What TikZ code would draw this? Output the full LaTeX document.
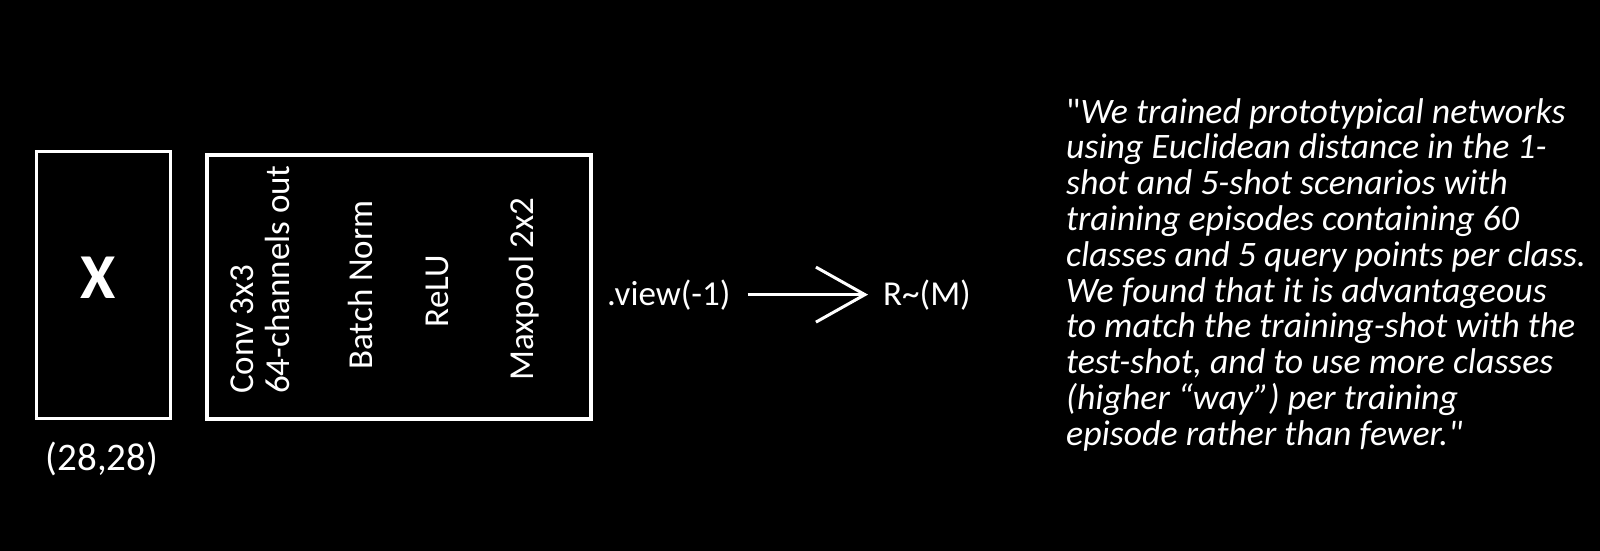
\documentclass[tikz,border=0pt]{standalone}
\usepackage{fontspec}
\setmainfont{Carlito}[Ligatures=TeXOff]
\usetikzlibrary{arrows.meta}
\begin{document}
\begin{tikzpicture}[
x=1pt, y=-1pt,
inbox/.style={rectangle, draw=white, line width=3pt, minimum width=134pt, minimum height=267pt, inner sep=0pt},
layerbox/.style={rectangle, draw=white, line width=4pt, minimum width=384pt, minimum height=264pt, inner sep=0pt},
labeltxt/.style={text=white, font=\fontsize{35}{36}\selectfont, inner sep=0pt},
layer/.style={labeltxt, rotate=90, align=left},
bigx/.style={text=white, font=\fontsize{64}{64}\selectfont\bfseries, inner sep=0pt},
paperquote/.style={text=white, font=\fontsize{35.8}{35.8}\selectfont\itshape, align=left, inner sep=0pt},
]
\fill[black] (0,0) rectangle (1600,551);
\useasboundingbox (0,0) rectangle (1600,551);
\node[inbox] (xin) at (103.5,285) {};
\node[bigx] [anchor=base] (xsym) at (98,298) {X};
\node[labeltxt] [anchor=base, font=\fontsize{39}{40}\selectfont] (xsize) at (102,470) {(28,28)};
\node[layerbox] (block) at (399,287) {};
\node[layer] [anchor=south west] (conv) at (290,394) {Conv 3x3\\64-channels out};
\node[layer] [anchor=base] (bn) at (372,285) {Batch Norm};
\node[layer] [anchor=base] (relu) at (448,291) {ReLU};
\node[layer] [anchor=base] (pool) at (533,289) {Maxpool 2x2};
\node[labeltxt] [anchor=base west] (view) at (607,305) {.view(-1)};
\node[labeltxt] [anchor=base west] (rm) at (883,305) {R\textasciitilde(M)};
\draw[white, line width=3pt, -{Straight Barb[length=49pt, width=55pt]}, shorten <=17pt, shorten >=15pt] (view.east) -- (rm.west);
\node[paperquote] [anchor=north west] (paper) at (1066,98) {\textup{"}We trained prototypical networks\\
using Euclidean distance in the 1-\\
shot and 5-shot scenarios with\\
training episodes containing 60\\
classes and 5 query points per class.\\
We found that it is advantageous\\
to match the training-shot with the\\
test-shot, and to use more classes\\
(higher “way”) per training\\
episode rather than fewer."};
\end{tikzpicture}
\end{document}
